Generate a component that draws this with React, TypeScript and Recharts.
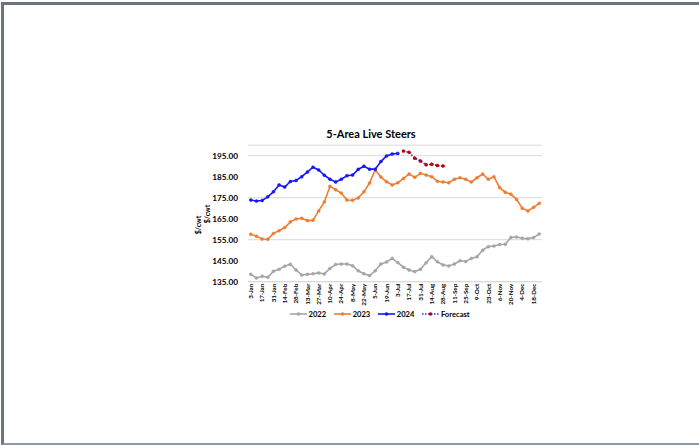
import { LineChart, Line, XAxis, YAxis, CartesianGrid } from "recharts";

// weekly observation dates
const weeks = [
  "3-Jan", "10-Jan", "17-Jan", "24-Jan", "31-Jan", "7-Feb", "14-Feb", "21-Feb", "28-Feb",
  "6-Mar", "13-Mar", "20-Mar", "27-Mar", "3-Apr", "10-Apr", "17-Apr", "24-Apr",
  "1-May", "8-May", "15-May", "22-May", "29-May", "5-Jun", "12-Jun", "19-Jun", "26-Jun",
  "3-Jul", "10-Jul", "17-Jul", "24-Jul", "31-Jul", "7-Aug", "14-Aug", "21-Aug", "28-Aug",
  "4-Sep", "11-Sep", "18-Sep", "25-Sep", "2-Oct", "9-Oct", "16-Oct", "23-Oct", "30-Oct",
  "6-Nov", "13-Nov", "20-Nov", "27-Nov", "4-Dec", "11-Dec", "18-Dec", "25-Dec",
];

const steers2022 = [
  138.5, 136.8, 137.6, 137.1, 140.0, 140.9, 142.4, 143.3, 140.6, 138.2, 138.5, 138.8, 139.2,
  138.7, 141.3, 143.2, 143.4, 143.4, 142.6, 140.2, 138.8, 137.9, 140.2, 143.4, 144.4, 146.1,
  144.1, 141.9, 140.6, 139.8, 140.9, 144.0, 146.9, 144.5, 143.0, 142.5, 143.4, 145.0, 144.6,
  146.1, 146.9, 150.0, 151.7, 152.0, 152.7, 152.8, 156.1, 156.3, 155.7, 155.5, 156.0, 157.7,
];

const steers2023 = [
  157.6, 156.7, 155.3, 155.2, 158.0, 159.3, 160.8, 163.5, 164.9, 165.2, 164.1, 164.3, 168.7,
  173.0, 180.4, 178.8, 177.2, 173.9, 173.8, 174.9, 177.8, 182.0, 188.3, 184.9, 182.6, 181.1,
  182.1, 184.2, 186.3, 184.7, 186.6, 185.8, 185.0, 182.8, 182.5, 182.1, 183.8, 184.5, 183.8,
  182.5, 184.5, 186.3, 183.8, 185.0, 179.8, 177.6, 176.7, 174.2, 170.0, 168.7, 170.4, 172.3,
];

const steers2024 = [
  173.9, 173.4, 173.7, 175.4, 177.8, 181.1, 180.1, 182.7, 183.2, 185.0, 187.2, 189.5, 188.2,
  185.7, 183.8, 182.5, 183.8, 185.5, 185.8, 188.5, 190.0, 188.6, 188.6, 192.2, 194.9, 195.8,
  196.1,
];

// forecast starts the week after the last 2024 value
const forecast = [197.2, 196.6, 193.8, 192.5, 190.7, 190.9, 190.3, 190.1];
const forecastStart = 27;

const yTicks = [135, 145, 155, 165, 175, 185, 195];

const FONT = "Lato, 'Open Sans', sans-serif";

const series = [
  { key: "y2022", name: "2022", color: "#a5a5a5", dot: "#a5a5a5", dashed: false },
  { key: "y2023", name: "2023", color: "#ed7d31", dot: "#ed7d31", dashed: false },
  { key: "y2024", name: "2024", color: "#1414ff", dot: "#1414ff", dashed: false },
  { key: "forecast", name: "Forecast", color: "#2f2fff", dot: "#c00000", dashed: true },
];

const rows = weeks.map((week, i) => ({
  week,
  y2022: steers2022[i],
  y2023: steers2023[i],
  y2024: i < steers2024.length ? steers2024[i] : null,
  forecast:
    i >= forecastStart && i < forecastStart + forecast.length ? forecast[i - forecastStart] : null,
}));

function WeekTick({ x, y, payload }: any) {
  return (
    <text
      transform={`translate(${x},${y}) rotate(-90)`}
      textAnchor="end"
      dy="0.35em"
      fontSize={6.3}
      fontWeight={700}
      fontFamily={FONT}
      fill="#000"
    >
      {payload.value}
    </text>
  );
}

function LegendKey({ color, dot, dashed }: { color: string; dot: string; dashed: boolean }) {
  return (
    <svg width={17} height={8} style={{ display: "block" }}>
      <line
        x1={0}
        x2={17}
        y1={4}
        y2={4}
        stroke={color}
        strokeWidth={1.6}
        strokeDasharray={dashed ? "1.5 1.5" : undefined}
      />
      <circle cx={8.5} cy={4} r={1.8} fill={dot} />
    </svg>
  );
}

export default function App() {
  return (
    <div
      style={{
        position: "absolute",
        left: 0,
        top: 0,
        width: 699,
        height: 445,
        background: "#fff",
        overflow: "hidden",
      }}
    >
      <div
        style={{
          position: "absolute",
          left: 1,
          top: 2,
          width: 700,
          height: 438,
          borderTop: "3px solid #6b7581",
          borderLeft: "3px solid #6b7581",
          borderBottom: "2px solid #8d98a3",
        }}
      />
      <div style={{ position: "absolute", left: 0, top: 0 }}>
        <LineChart
          width={699}
          height={445}
          data={rows}
          margin={{ top: 145.2, right: 157, bottom: 143.3, left: 208 }}
        >
          <CartesianGrid vertical={false} stroke="#d9d9d9" strokeWidth={1} />
          <XAxis
            dataKey="week"
            interval={1}
            height={20}
            tickLine={false}
            axisLine={{ stroke: "#d9d9d9" }}
            tickSize={0}
            tickMargin={2}
            padding={{ left: 2.8, right: 2.8 }}
            tick={<WeekTick />}
          />
          <YAxis
            width={40}
            domain={[135, 200]}
            ticks={yTicks}
            axisLine={false}
            tickLine={false}
            tickSize={0}
            tickMargin={10}
            tickFormatter={(v: number) => v.toFixed(2)}
            tick={{ fontSize: 8.2, fontWeight: 700, fill: "#000", fontFamily: FONT }}
          />
          {series.map((s) => (
            <Line
              key={s.key}
              dataKey={s.key}
              name={s.name}
              stroke={s.color}
              strokeWidth={1.6}
              strokeDasharray={s.dashed ? "1.5 1.5" : undefined}
              dot={{ r: s.dashed ? 1.7 : 1.5, fill: s.dot, stroke: s.dot, strokeWidth: 0.5 }}
              connectNulls={false}
              isAnimationActive={false}
            />
          ))}
        </LineChart>
      </div>
      <svg
        width={699}
        height={445}
        style={{ position: "absolute", left: 0, top: 0, pointerEvents: "none" }}
      >
        <text
          x={371}
          y={138.3}
          textAnchor="middle"
          fontSize={11}
          fontWeight={700}
          fontFamily={FONT}
          fill="#000"
        >
          5-Area Live Steers
        </text>
        <text
          transform="translate(199,225) rotate(-90)"
          textAnchor="middle"
          dy="0.35em"
          fontSize={7}
          fontWeight={700}
          fontFamily={FONT}
          fill="#000"
        >
          $/cwt
        </text>
        <text
          transform="translate(208,214) rotate(-90)"
          textAnchor="middle"
          dy="0.35em"
          fontSize={7}
          fontWeight={700}
          fontFamily={FONT}
          fill="#000"
        >
          $/cwt
        </text>
      </svg>
      <div
        style={{
          position: "absolute",
          left: 290,
          top: 309,
          display: "flex",
          alignItems: "center",
          gap: 8,
          fontFamily: FONT,
          fontSize: 7.6,
          fontWeight: 700,
          color: "#000",
          lineHeight: "10px",
        }}
      >
        {series.map((s) => (
          <div key={s.key} style={{ display: "flex", alignItems: "center", gap: 1.5 }}>
            <LegendKey color={s.color} dot={s.dot} dashed={s.dashed} />
            <span>{s.name}</span>
          </div>
        ))}
      </div>
    </div>
  );
}
